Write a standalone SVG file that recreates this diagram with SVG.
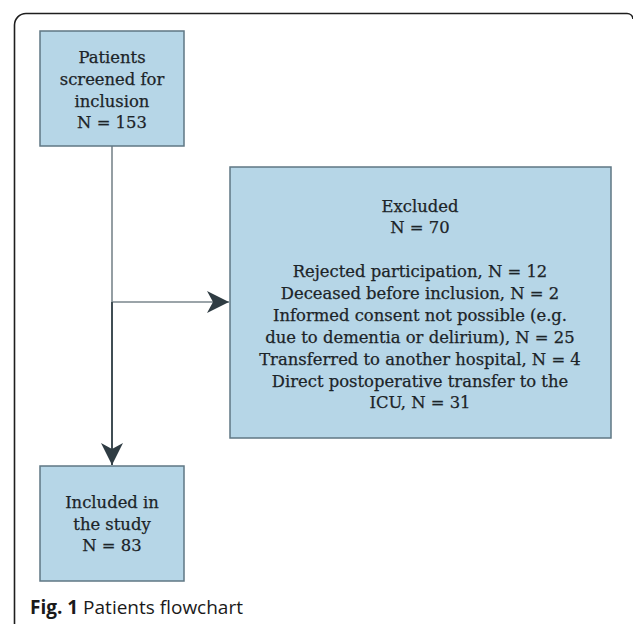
<svg xmlns="http://www.w3.org/2000/svg" width="633" height="624" viewBox="0 0 633 624">
<style>
.box{fill:#b6d6e7;stroke:#5f7784;stroke-width:1.5}
.t{font-family:"DejaVu Serif","Liberation Serif",serif;font-size:16.4px;fill:#1c2428;stroke:#1c2428;stroke-width:0.25;text-anchor:middle}
.ln{fill:none;stroke:#7a868c;stroke-width:1.6}
.ln2{fill:none;stroke:#404d54;stroke-width:2}
.cap{font-family:"Open Sans","Noto Sans",sans-serif;font-size:19px;fill:#1a1a1a}
</style>
<defs>
<marker id="ah" viewBox="0 0 24 24" markerWidth="24" markerHeight="24" refX="22" refY="12" orient="auto" markerUnits="userSpaceOnUse">
<path d="M0,1 L22,12 L0,23 L6,12 Z" fill="#2f3c43"/>
</marker>
</defs>
<path d="M14.5,624 L14.5,25 A11.5,11.5 0 0 1 26,13.5 L627,13.5 A6,6 0 0 1 633,19" fill="none" stroke="#1e1e1e" stroke-width="1.6"/>
<g id="connectors">
<line class="ln" x1="112" y1="146" x2="112" y2="302"/>
<line class="ln" x1="112" y1="302" x2="229" y2="302" marker-end="url(#ah)"/>
<line class="ln2" x1="112" y1="302" x2="112" y2="465" marker-end="url(#ah)"/>
</g>
<g id="screened">
<rect class="box" x="40" y="31" width="144" height="115"/>
<text class="t" x="112" y="63">Patients</text>
<text class="t" x="112" y="85">screened for</text>
<text class="t" x="112" y="107">inclusion</text>
<text class="t" x="112" y="128">N = 153</text>
</g>
<g id="excluded">
<rect class="box" x="230" y="167" width="381" height="271"/>
<text class="t" x="420" y="212">Excluded</text>
<text class="t" x="420" y="233">N = 70</text>
<text class="t" x="420" y="277">Rejected participation, N = 12</text>
<text class="t" x="420" y="299">Deceased before inclusion, N = 2</text>
<text class="t" x="420" y="321">Informed consent not possible (e.g.</text>
<text class="t" x="420" y="343">due to dementia or delirium), N = 25</text>
<text class="t" x="420" y="365">Transferred to another hospital, N = 4</text>
<text class="t" x="420" y="387">Direct postoperative transfer to the</text>
<text class="t" x="420" y="408">ICU, N = 31</text>
</g>
<g id="included">
<rect class="box" x="40" y="466" width="144" height="115"/>
<text class="t" x="112" y="508">Included in</text>
<text class="t" x="112" y="530">the study</text>
<text class="t" x="112" y="551">N = 83</text>
</g>
<text class="cap" x="30" y="614"><tspan font-weight="bold">Fig. 1</tspan> Patients flowchart</text>
</svg>
